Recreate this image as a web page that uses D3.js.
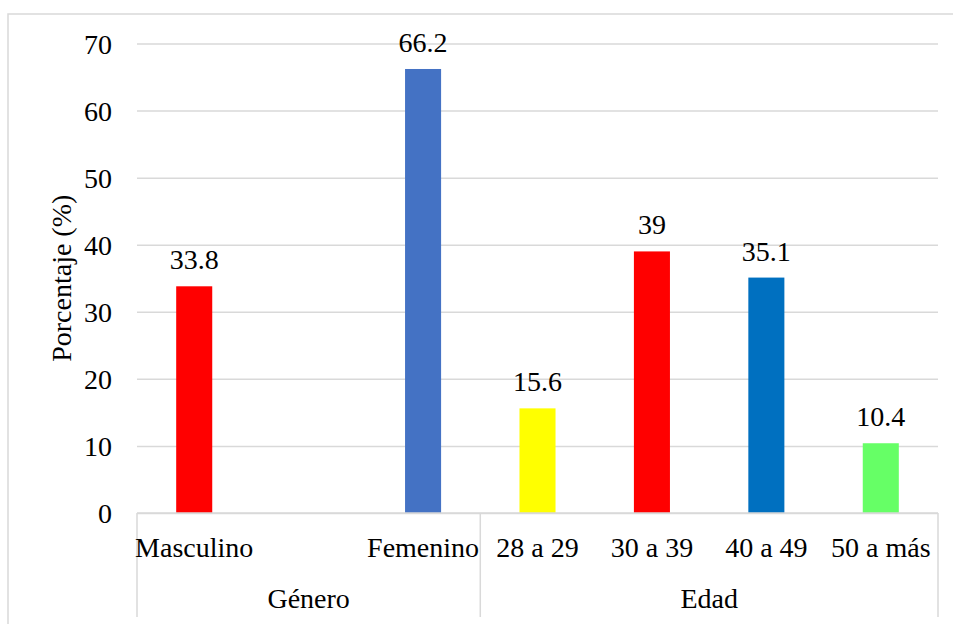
<!DOCTYPE html>
<html>
<head>
<meta charset="utf-8">
<script src="https://cdn.jsdelivr.net/npm/d3@7"></script>
<style>
  html, body { margin: 0; padding: 0; background: #fff; }
  svg { display: block; }
</style>
</head>
<body>
<svg id="chart" width="953" height="624"></svg>
<script>
// Category slots (an empty slot separates the two genders), values and bar colours
const categories = ["Masculino", "", "Femenino", "28 a 29", "30 a 39", "40 a 49", "50 a más"];
const values = [33.8, null, 66.2, 15.6, 39, 35.1, 10.4];
const colors = ["#FF0000", null, "#4472C4", "#FFFF00", "#FF0000", "#0070C0", "#66FF66"];
const groupNames = ["Género", "Edad"];
const groupSpans = [3, 4];
const yTicks = [0, 10, 20, 30, 40, 50, 60, 70];
const yTitle = "Porcentaje (%)";

const FONT = "'Liberation Serif', 'Times New Roman', Tinos, 'DejaVu Serif', serif";
const svg = d3.select("#chart").style("font-family", FONT);
const margin = { left: 137, right: 15, top: 43.5, bottom: 111 };
const W = 953, H = 624;
const x0 = margin.left, x1 = W - margin.right;
const yTop = margin.top, yBottom = H - margin.bottom;
const grid = "#d9d9d9";
const fontSize = 28;

function label(sel) {
  return sel.style("font-family", FONT).attr("font-size", fontSize).attr("fill", "#000");
}

// Outer chart frame
svg.append("rect")
  .attr("x", 8).attr("y", 14)
  .attr("width", W).attr("height", H)
  .attr("fill", "none").attr("stroke", grid).attr("stroke-width", 1.5);

const x = d3.scaleBand()
  .domain(d3.range(categories.length))
  .range([x0, x1])
  .paddingInner(0.685)
  .paddingOuter(0.3425);

const y = d3.scaleLinear().domain([0, 70]).range([yBottom, yTop]);

// Value axis with horizontal gridlines
const yAxis = svg.append("g")
  .attr("transform", `translate(${x0},0)`)
  .call(d3.axisLeft(y).tickValues(yTicks).tickSize(-(x1 - x0)).tickPadding(25));
yAxis.attr("font-family", null).attr("font-size", null);
yAxis.select(".domain").remove();
yAxis.selectAll(".tick line").attr("stroke", grid).attr("stroke-width", 1.5);
label(yAxis.selectAll(".tick text")).attr("dy", "0.34em");

// Axis title
label(svg.append("text")
  .attr("transform", `translate(71,${(yTop + yBottom) / 2}) rotate(-90)`)
  .attr("text-anchor", "middle"))
  .text(yTitle);

// Bars
const data = categories.map((c, i) => ({ i, c, v: values[i], col: colors[i] }))
  .filter(d => d.v != null);

svg.append("g").selectAll("rect")
  .data(data).join("rect")
  .attr("x", d => x(d.i))
  .attr("width", x.bandwidth())
  .attr("y", d => y(d.v))
  .attr("height", d => y(0) - y(d.v))
  .attr("fill", d => d.col);

// Value labels
label(svg.append("g").selectAll("text")
  .data(data).join("text")
  .attr("x", d => x(d.i) + x.bandwidth() / 2)
  .attr("y", d => y(d.v) - 17)
  .attr("text-anchor", "middle"))
  .text(d => d.v);

// Category axis line and group separators
svg.append("line")
  .attr("x1", x0).attr("x2", x1)
  .attr("y1", y(0)).attr("y2", y(0))
  .attr("stroke", grid).attr("stroke-width", 1.5);

const step = x.step();
const sepX = [x0];
let acc = 0;
groupSpans.forEach(s => { acc += s; sepX.push(x0 + acc * step); });

svg.append("g").selectAll("line")
  .data(sepX).join("line")
  .attr("x1", d => d).attr("x2", d => d)
  .attr("y1", y(0)).attr("y2", 617)
  .attr("stroke", grid).attr("stroke-width", 1.5);

// Category labels
label(svg.append("g").selectAll("text")
  .data(categories.map((c, i) => ({ c, i })).filter(d => d.c !== ""))
  .join("text")
  .attr("x", d => x(d.i) + x.bandwidth() / 2)
  .attr("y", 557)
  .attr("text-anchor", "middle"))
  .text(d => d.c);

// Group labels
label(svg.append("g").selectAll("text")
  .data(groupNames.map((g, k) => ({ g, a: sepX[k], b: sepX[k + 1] })))
  .join("text")
  .attr("x", d => (d.a + d.b) / 2)
  .attr("y", 608)
  .attr("text-anchor", "middle"))
  .text(d => d.g);
</script>
</body>
</html>
